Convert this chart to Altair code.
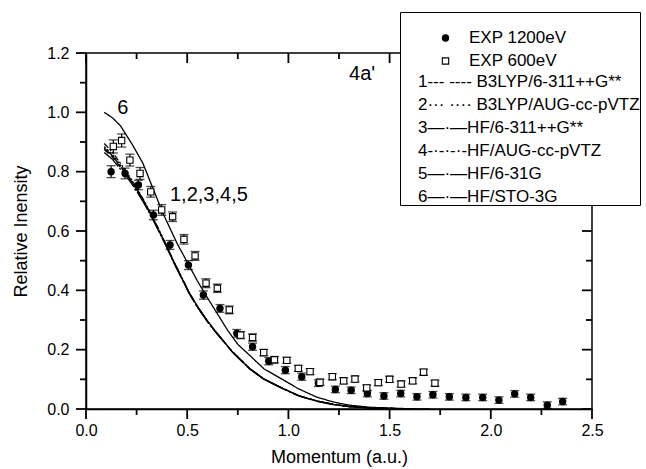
import json
import altair as alt
import pandas as pd

# ---------------- data ----------------
exp1200_x = [0.124, 0.193, 0.259, 0.333, 0.415, 0.506, 0.580, 0.662, 0.745, 0.823,
             0.903, 0.985, 1.066, 1.148, 1.232, 1.310, 1.390, 1.472, 1.555, 1.635,
             1.714, 1.795, 1.877, 1.960, 2.040, 2.118, 2.197, 2.279, 2.355]
exp1200_y = [0.800, 0.794, 0.755, 0.654, 0.553, 0.485, 0.384, 0.339, 0.255, 0.210,
             0.161, 0.131, 0.109, 0.087, 0.066, 0.063, 0.052, 0.044, 0.052, 0.041,
             0.048, 0.041, 0.039, 0.039, 0.030, 0.051, 0.039, 0.013, 0.025]
exp1200_err = [0.020, 0.018, 0.016, 0.016, 0.015, 0.015, 0.014, 0.013, 0.013, 0.012,
               0.012, 0.012, 0.012, 0.011, 0.011, 0.011, 0.011, 0.011, 0.011, 0.011,
               0.011, 0.011, 0.011, 0.011, 0.011, 0.011, 0.011, 0.011, 0.011]

exp600_x = [0.135, 0.176, 0.217, 0.267, 0.320, 0.374, 0.428, 0.484, 0.539, 0.593,
            0.649, 0.708, 0.764, 0.823, 0.878, 0.931, 0.992, 1.049, 1.107, 1.156,
            1.217, 1.273, 1.329, 1.387, 1.444, 1.500, 1.557, 1.614, 1.668, 1.724]
exp600_y = [0.885, 0.905, 0.839, 0.794, 0.732, 0.671, 0.648, 0.572, 0.516, 0.424,
            0.407, 0.334, 0.249, 0.241, 0.190, 0.166, 0.164, 0.137, 0.126, 0.090,
            0.109, 0.095, 0.101, 0.071, 0.089, 0.100, 0.084, 0.095, 0.124, 0.087]
exp600_err = [0.022, 0.022, 0.020, 0.020, 0.018, 0.018, 0.016, 0.016, 0.015, 0.015,
              0.014, 0.013, 0.012, 0.012, 0.011, 0.011, 0.010, 0.010, 0.010, 0.010,
              0.010, 0.010, 0.010, 0.010, 0.010, 0.010, 0.010, 0.010, 0.010, 0.010]

curve_x = [0.09, 0.13, 0.17, 0.20, 0.24, 0.28, 0.32, 0.35, 0.40, 0.43, 0.47, 0.51, 0.55, 0.60,
           0.64, 0.68, 0.72, 0.76, 0.81, 0.88, 0.975, 1.05, 1.14, 1.22, 1.30, 1.40, 1.50, 1.60]
b3lyp_6311 = [0.875, 0.850, 0.815, 0.790, 0.750, 0.705, 0.655, 0.615, 0.545, 0.500, 0.445, 0.390, 0.345, 0.295,
              0.260, 0.228, 0.195, 0.168, 0.135, 0.100, 0.068, 0.045, 0.027, 0.016, 0.008, 0.004, 0.002, 0.000]
b3lyp_aug = [0.885, 0.858, 0.822, 0.795, 0.754, 0.708, 0.658, 0.617, 0.547, 0.502, 0.447, 0.392, 0.347, 0.297,
             0.262, 0.229, 0.196, 0.169, 0.136, 0.101, 0.069, 0.045, 0.027, 0.016, 0.008, 0.004, 0.002, 0.000]
hf_6311 = [0.865, 0.842, 0.808, 0.784, 0.745, 0.701, 0.652, 0.612, 0.543, 0.498, 0.443, 0.389, 0.344, 0.294,
           0.259, 0.227, 0.194, 0.167, 0.134, 0.100, 0.068, 0.044, 0.026, 0.015, 0.008, 0.004, 0.002, 0.000]
hf_aug = [0.895, 0.866, 0.828, 0.800, 0.758, 0.711, 0.660, 0.619, 0.548, 0.503, 0.448, 0.393, 0.347, 0.297,
          0.262, 0.229, 0.196, 0.169, 0.136, 0.101, 0.069, 0.045, 0.027, 0.016, 0.008, 0.004, 0.002, 0.000]
hf_631 = [0.880, 0.854, 0.818, 0.792, 0.752, 0.706, 0.656, 0.616, 0.546, 0.501, 0.446, 0.391, 0.346, 0.296,
          0.261, 0.228, 0.195, 0.168, 0.135, 0.100, 0.068, 0.045, 0.027, 0.016, 0.008, 0.004, 0.002, 0.000]
sto_x = [0.09, 0.13, 0.17, 0.23, 0.28, 0.33, 0.38, 0.45, 0.50, 0.55, 0.60, 0.65, 0.70, 0.75, 0.81,
         0.88, 0.975, 1.05, 1.14, 1.22, 1.30, 1.40, 1.50, 1.60, 1.70]
sto_y = [1.000, 0.982, 0.955, 0.890, 0.830, 0.745, 0.660, 0.558, 0.495, 0.432, 0.375, 0.320, 0.265, 0.218, 0.180,
         0.135, 0.098, 0.068, 0.040, 0.024, 0.013, 0.006, 0.003, 0.001, 0.000]

methods = ["B3LYP/6-311++G**", "B3LYP/AUG-cc-pVTZ", "HF/6-311++G**",
           "HF/AUG-cc-pVTZ", "HF/6-31G", "HF/STO-3G"]
method_prefix = ["1---\u00a0----\u00a0", "2\u00b7\u00b7\u00b7\u00a0\u00b7\u00b7\u00b7\u00b7\u00a0",
                 "3\u2014\u00b7\u2014", "4-\u00b7-\u00b7-\u00b7-", "5\u2014\u00b7\u2014", "6\u2014\u00b7\u2014"]
method_dash = [[6, 3], [2, 2], [20, 2, 2, 2], [6, 2, 2, 2, 2, 2], [20, 2, 2, 2], [1, 0]]
exp_names = ["EXP 1200eV", "EXP 600eV"]

annot_x = [0.154, 0.415, 1.30]
annot_y = [1.015, 0.72, 1.13]
annot_t = ["6", "1,2,3,4,5", "4a'"]

x_major = [0.0, 0.5, 1.0, 1.5, 2.0, 2.5]
x_minor = [0.25, 0.75, 1.25, 1.75, 2.25]
y_major = [0.0, 0.2, 0.4, 0.6, 0.8, 1.0, 1.2]
y_minor = [0.1, 0.3, 0.5, 0.7, 0.9, 1.1]

# ---------------- layout constants ----------------
W, H = 506, 356
X0, X1, Y0, Y1 = 0.0, 2.5, 0.0, 1.2
MAJOR_LEN, MINOR_LEN = 10, 6          # tick lengths in pixels
FONT = "Liberation Sans"

# ---------------- tables ----------------
curve_rows = []
for m, ys in zip(methods[:5], [b3lyp_6311, b3lyp_aug, hf_6311, hf_aug, hf_631]):
    for xv, yv in zip(curve_x, ys):
        curve_rows.append({"x": xv, "y": yv, "method": m})
for xv, yv in zip(sto_x, sto_y):
    curve_rows.append({"x": xv, "y": yv, "method": methods[5]})
curves_df = pd.DataFrame(curve_rows)

exp_df = pd.concat([
    pd.DataFrame({"x": exp1200_x, "y": exp1200_y, "err": exp1200_err, "exp": exp_names[0]}),
    pd.DataFrame({"x": exp600_x, "y": exp600_y, "err": exp600_err, "exp": exp_names[1]}),
], ignore_index=True)
exp_df["lo"] = exp_df["y"] - exp_df["err"]
exp_df["hi"] = exp_df["y"] + exp_df["err"]
caps_df = pd.concat([
    exp_df[["x", "lo"]].rename(columns={"lo": "cy"}),
    exp_df[["x", "hi"]].rename(columns={"hi": "cy"}),
], ignore_index=True)

text_df = pd.DataFrame({"x": annot_x, "y": annot_y, "t": annot_t})

# frame ticks (outward on bottom/left, inward on top/right), lengths converted to data units
dx = (X1 - X0) / W
dy = (Y1 - Y0) / H
tick_rows = []
for vals, L in ((x_major, MAJOR_LEN), (x_minor, MINOR_LEN)):
    for v in vals:
        tick_rows.append({"tx": v, "tx2": v, "ty": Y0, "ty2": Y0 - L * dy})
        tick_rows.append({"tx": v, "tx2": v, "ty": Y1, "ty2": Y1 - L * dy})
for vals, L in ((y_major, MAJOR_LEN), (y_minor, MINOR_LEN)):
    for v in vals:
        tick_rows.append({"tx": X0, "tx2": X0 - L * dx, "ty": v, "ty2": v})
        tick_rows.append({"tx": X1, "tx2": X1 - L * dx, "ty": v, "ty2": v})
ticks_df = pd.DataFrame(tick_rows)

# ---------------- scales / axes ----------------
xs = alt.Scale(domain=[X0, X1], nice=False, zero=False)
ys = alt.Scale(domain=[Y0, Y1], nice=False, zero=False)

ax_bottom = alt.Axis(orient="bottom", values=x_major, format=".1f", ticks=False, labelFontSize=16,
                     labelPadding=13, title="Momentum (a.u.)", titleFontSize=18,
                     titleFontWeight="normal", titlePadding=10)
ax_left = alt.Axis(orient="left", values=y_major, format=".1f", ticks=False, labelFontSize=16,
                   labelPadding=17, title="Relative Inensity", titleFontSize=18,
                   titleFontWeight="normal", titlePadding=16)

label_expr = (json.dumps(method_prefix, ensure_ascii=False) + "[indexof("
              + json.dumps(methods, ensure_ascii=False) + ", datum.label)] + datum.label")

leg_lines = alt.Legend(orient="none", legendX=314, legendY=-41, title="\u00a0", titleFontSize=17,
                       titlePadding=44, padding=0, strokeColor="black", fillColor="white",
                       cornerRadius=0, symbolOpacity=0, symbolSize=0, symbolStrokeWidth=0,
                       labelOffset=1, labelFontSize=17, labelFont=FONT, labelColor="black",
                       labelLimit=500, rowPadding=5, labelExpr=label_expr)
leg_exp = alt.Legend(orient="none", legendX=351, legendY=-23.5, title=None, padding=0,
                     symbolSize=40, symbolStrokeWidth=1.1,
                     labelOffset=15, labelFontSize=17, labelFont=FONT, labelColor="black",
                     labelLimit=300, rowPadding=5)

lines = alt.Chart(curves_df).mark_line(strokeWidth=1.3).encode(
    x=alt.X("x:Q", scale=xs, axis=ax_bottom),
    y=alt.Y("y:Q", scale=ys, axis=ax_left),
    color=alt.Color("method:N", scale=alt.Scale(domain=methods, range=["black"] * 6), legend=leg_lines),
    strokeDash=alt.StrokeDash("method:N", scale=alt.Scale(domain=methods, range=method_dash), legend=None),
)

frame_ticks = alt.Chart(ticks_df).mark_rule(color="#000000", strokeWidth=1.8, clip=False).encode(
    x=alt.X("tx:Q", scale=xs, axis=None),
    x2="tx2:Q",
    y=alt.Y("ty:Q", scale=ys, axis=None),
    y2="ty2:Q",
)

rules = alt.Chart(exp_df).mark_rule(color="black", strokeWidth=1.2).encode(
    x=alt.X("x:Q", scale=xs, axis=None),
    y=alt.Y("lo:Q", scale=ys, axis=None),
    y2="hi:Q",
)

caps = alt.Chart(caps_df).mark_tick(color="black", orient="horizontal", size=9, thickness=1.3).encode(
    x=alt.X("x:Q", scale=xs, axis=None),
    y=alt.Y("cy:Q", scale=ys, axis=None),
)

points = alt.Chart(exp_df).mark_point(size=40, strokeWidth=1.1, opacity=1).encode(
    x=alt.X("x:Q", scale=xs, axis=None),
    y=alt.Y("y:Q", scale=ys, axis=None),
    shape=alt.Shape("exp:N", scale=alt.Scale(domain=exp_names, range=["circle", "square"]), legend=leg_exp),
    fill=alt.Fill("exp:N", scale=alt.Scale(domain=exp_names, range=["black", "white"]), legend=leg_exp),
    stroke=alt.Stroke("exp:N", scale=alt.Scale(domain=exp_names, range=["black", "black"]), legend=leg_exp),
)

texts = alt.Chart(text_df).mark_text(align="left", baseline="middle", fontSize=20, font=FONT,
                                     color="black").encode(
    x=alt.X("x:Q", scale=xs, axis=None),
    y=alt.Y("y:Q", scale=ys, axis=None),
    text="t:N",
)

chart = alt.layer(lines, rules, caps, points, texts, frame_ticks).resolve_axis(
    x="independent", y="independent"
).properties(
    width=W, height=H, autosize="none",
    padding={"left": 86, "top": 53, "right": 54, "bottom": 60},
    background="white",
).configure_view(
    stroke="black", strokeWidth=1.5
).configure_axis(
    grid=False, domainColor="#000000", domainWidth=1.5, labelColor="#000000", titleColor="#000000",
    labelFont=FONT, titleFont=FONT, labelFlush=False
)

chart.save("out.html", embed_options={"renderer": "svg", "actions": False})
